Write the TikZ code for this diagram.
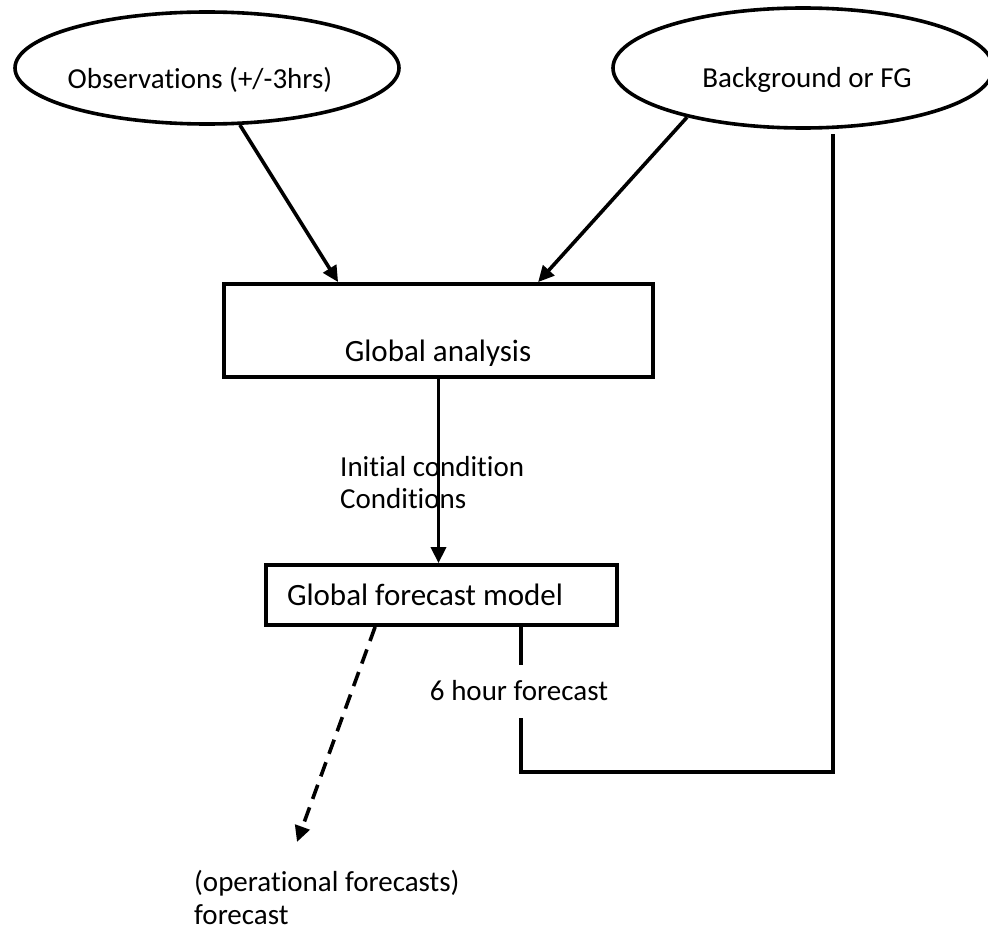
\documentclass[tikz,border=0pt]{standalone}
\usepackage{fontspec}
\setmainfont{Carlito}[Ligatures=NoCommon]
\usepackage{tikz}
\usetikzlibrary{arrows.meta,shapes.geometric}
\tikzset{
  ell/.style={ellipse,draw=black,line width=3.6pt,inner sep=0pt},
  box/.style={rectangle,draw=black,line width=3.8pt,inner sep=0pt},
  lab/.style={font=\fontsize{29}{33}\selectfont,inner sep=0pt},
  biglab/.style={font=\fontsize{31}{36}\selectfont,inner sep=0pt},
  solidln/.style={line width=3.8pt,black},
  arr/.style={line width=3.6pt,black,-{Triangle[length=16pt,width=15pt]}},
  dasharr/.style={line width=3.6pt,black,dash pattern=on 15pt off 9pt,-{Triangle[length=16pt,width=15pt]}}
}
\begin{document}
\begin{tikzpicture}[x=1pt,y=-1pt]
  \useasboundingbox (0,0) rectangle (988,934);
  \node[ell,minimum width=384pt,minimum height=112pt] (obs) at (207,68) {};
  \node[lab] (obstxt) at (200,80) {Observations (+/-3hrs)};
  \node[ell,minimum width=380pt,minimum height=120pt] (bg) at (803,68) {};
  \node[lab] (bgtxt) at (807,80) {Background or FG};
  \node[box,minimum width=429pt,minimum height=93pt] (ana) at (438.5,330.5) {};
  \node[biglab] (anatxt) at (438,353) {Global analysis};
  \node[box,biglab,minimum height=60pt,text width=309pt,inner xsep=21pt,align=flush left] (fc) at (441.5,595) {Global forecast model};
  \draw[arr] (obs.-60) -- ([xshift=116pt]ana.north west);
  \draw[arr] (bg.203) -- ([xshift=316pt]ana.north west);
  \draw[arr] (ana.south) -- (ana.south |- fc.north);
  \node[lab,anchor=west] (ictxt) at (340,467) {Initial condition};
  \node[lab,anchor=west] (condtxt) at (340,499) {Conditions};
  % forecast goes back as first guess
  \draw[solidln] ([xshift=257pt]fc.south west) -- ++(0,145) -| ([xshift=30pt,yshift=-4pt]bg.south);
  \node[lab,fill=white,minimum height=53pt] (six) at (519,691) {6 hour forecast};
  \coordinate (optip) at (297,842);
  \draw[dasharr] ([xshift=111pt]fc.south west) -- (optip);
  \node[lab,align=left,anchor=north west] (oper) at (194,870) {(operational forecasts)\\forecast};
\end{tikzpicture}
\end{document}
